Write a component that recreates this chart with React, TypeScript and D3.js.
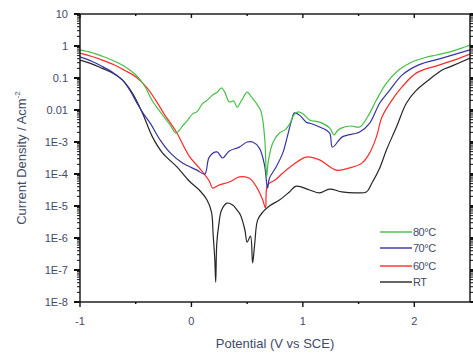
import * as d3 from 'd3'

// potential (V vs SCE) and log10 of current density (A/cm2)
const rtData: [number, number][] = [
  [-1.0, -0.44], [-0.9, -0.55], [-0.8, -0.7], [-0.7, -0.86], [-0.62, -1.06], [-0.53, -1.47],
  [-0.44, -2.09], [-0.35, -2.84], [-0.26, -3.34], [-0.13, -3.78], [-0.02, -4.22], [0.07, -4.5],
  [0.14, -4.81], [0.18, -5.19], [0.195, -5.9], [0.21, -6.69], [0.218, -7.38], [0.227, -6.2],
  [0.245, -5.6], [0.27, -5.13], [0.32, -4.91], [0.37, -4.97], [0.41, -5.13], [0.44, -5.28],
  [0.48, -5.75], [0.5, -6.13], [0.53, -5.94], [0.549, -6.78], [0.567, -6.22], [0.594, -5.44],
  [0.64, -5.19], [0.7, -5.0], [0.79, -4.81], [0.88, -4.56], [0.94, -4.38], [1.06, -4.5],
  [1.15, -4.59], [1.24, -4.47], [1.35, -4.56], [1.48, -4.59], [1.57, -4.56], [1.62, -4.28],
  [1.69, -3.81], [1.75, -3.25], [1.84, -2.53], [1.93, -1.78], [2.02, -1.38], [2.13, -1.06],
  [2.25, -0.75], [2.34, -0.62], [2.5, -0.38],
]

const c60Data: [number, number][] = [
  [-1.0, -0.22], [-0.9, -0.32], [-0.8, -0.44], [-0.7, -0.58], [-0.6, -0.76], [-0.5, -0.96],
  [-0.4, -1.3], [-0.32, -1.7], [-0.24, -2.15], [-0.18, -2.45], [-0.13, -2.72], [-0.02, -3.44],
  [0.07, -3.81], [0.16, -4.22], [0.19, -4.44], [0.25, -4.34], [0.34, -4.25], [0.43, -4.09],
  [0.52, -4.13], [0.585, -4.41], [0.64, -4.81], [0.665, -5.06], [0.683, -4.34], [0.75, -4.19],
  [0.82, -3.97], [0.91, -3.72], [1.03, -3.47], [1.15, -3.56], [1.3, -3.88], [1.42, -3.81],
  [1.53, -3.66], [1.6, -3.34], [1.66, -2.84], [1.71, -2.22], [1.8, -1.69], [1.89, -1.28],
  [2.02, -0.84], [2.2, -0.62], [2.35, -0.45], [2.5, -0.25],
]

const c70Data: [number, number][] = [
  [-1.0, -0.34], [-0.9, -0.47], [-0.8, -0.64], [-0.7, -0.84], [-0.62, -1.06], [-0.55, -1.4],
  [-0.49, -1.78], [-0.43, -2.12], [-0.37, -2.41], [-0.28, -2.94], [-0.19, -3.34], [-0.08, -3.66],
  [0.05, -3.88], [0.12, -4.0], [0.16, -3.47], [0.23, -3.31], [0.28, -3.5], [0.34, -3.28],
  [0.43, -3.16], [0.5, -3.0], [0.55, -3.0], [0.61, -3.19], [0.656, -3.72], [0.683, -4.44],
  [0.7, -4.13], [0.76, -3.78], [0.82, -3.34], [0.86, -2.84], [0.9, -2.31], [0.925, -2.09],
  [0.97, -2.16], [1.03, -2.38], [1.06, -2.41], [1.15, -2.53], [1.24, -2.72], [1.265, -3.16],
  [1.355, -2.84], [1.51, -2.69], [1.6, -2.41], [1.69, -1.78], [1.78, -1.38], [1.89, -0.91],
  [2.04, -0.59], [2.25, -0.38], [2.5, -0.12],
]

const c80Data: [number, number][] = [
  [-1.0, -0.12], [-0.9, -0.2], [-0.8, -0.32], [-0.7, -0.46], [-0.6, -0.64], [-0.5, -0.9],
  [-0.42, -1.25], [-0.35, -1.72], [-0.28, -2.06], [-0.19, -2.47], [-0.14, -2.72], [-0.1, -2.6],
  [-0.08, -2.5], [-0.04, -2.35], [0.01, -2.12], [0.05, -2.05], [0.1, -1.8], [0.14, -1.7],
  [0.19, -1.53], [0.23, -1.45], [0.27, -1.31], [0.3, -1.45], [0.34, -1.75], [0.38, -1.72],
  [0.41, -1.91], [0.45, -1.7], [0.5, -1.44], [0.54, -1.6], [0.58, -1.78], [0.62, -2.0],
  [0.64, -2.31], [0.66, -3.0], [0.675, -4.1], [0.69, -3.6], [0.73, -3.03], [0.79, -2.72],
  [0.84, -2.62], [0.88, -2.45], [0.92, -2.15], [0.96, -2.06], [1.0, -2.12], [1.06, -2.31],
  [1.15, -2.38], [1.24, -2.56], [1.28, -2.78], [1.31, -2.65], [1.35, -2.56], [1.43, -2.5],
  [1.51, -2.53], [1.58, -2.22], [1.66, -1.69], [1.75, -1.16], [1.86, -0.75], [1.98, -0.5],
  [2.1, -0.36], [2.2, -0.28], [2.35, -0.15], [2.5, 0.03],
]

const seriesNames = ['80\u00b0C', '70\u00b0C', '60\u00b0C', 'RT']
const seriesColors = ['#45c045', '#3434a4', '#ff2a2a', '#262626']
const seriesData = [c80Data, c70Data, c60Data, rtData]

const xTicks = [-1, 0, 1, 2]
const yTickValues = [10, 1, 0.1, 0.01, 1e-3, 1e-4, 1e-5, 1e-6, 1e-7, 1e-8]
const yTickLabels = ['10', '1', '0.1', '0.01', '1E-3', '1E-4', '1E-5', '1E-6', '1E-7', '1E-8']

const W = 473
const H = 357
const left = 80
const right = 470
const top = 14
const bottom = 302
const textColor = '#3f4b68'

export default function App() {
  const x = d3.scaleLinear().domain([-1, 2.5]).range([left, right])
  const y = d3.scaleLog().domain([1e-8, 10]).range([bottom, top])

  const line = d3.line<[number, number]>()
    .x(d => x(d[0]))
    .y(d => y(Math.pow(10, d[1])))
    .curve(d3.curveCatmullRom.alpha(0.5))

  // minor ticks: 2..9 within each decade
  const minorY: number[] = []
  for (let e = -8; e < 1; e++) {
    for (let k = 2; k <= 9; k++) minorY.push(k * Math.pow(10, e))
  }
  const minorX = [-0.5, 0.5, 1.5]

  return (
    <svg width={W} height={H} style={{ position: 'absolute', left: 0, top: 0, background: '#fff' }}
      fontFamily="'Liberation Sans', Arial, sans-serif">
      <defs>
        <clipPath id="plot">
          <rect x={left} y={top} width={right - left} height={bottom - top} />
        </clipPath>
      </defs>

      <g clipPath="url(#plot)" fill="none" strokeWidth={1.2} strokeLinejoin="round">
        {seriesData.slice().reverse().map((s, i) => (
          <path key={i} d={line(s) || ''} stroke={seriesColors[3 - i]} />
        ))}
      </g>

      {/* frame */}
      <rect x={left} y={top} width={right - left} height={bottom - top} fill="none" stroke="#111" strokeWidth={1.4} />

      {/* y ticks */}
      {yTickValues.map((v, i) => (
        <g key={'y' + i}>
          <line x1={left - 6} x2={left} y1={y(v)} y2={y(v)} stroke="#111" strokeWidth={2} />
          <line x1={right} x2={right + 6} y1={y(v)} y2={y(v)} stroke="#111" strokeWidth={2} />
          <text x={68} y={y(v) + 4} textAnchor="end" fontSize={11} fill={textColor}>{yTickLabels[i]}</text>
        </g>
      ))}
      {minorY.map((v, i) => (
        <g key={'ym' + i}>
          <line x1={left - 3} x2={left} y1={y(v)} y2={y(v)} stroke="#111" strokeWidth={1} />
          <line x1={right} x2={right + 3} y1={y(v)} y2={y(v)} stroke="#111" strokeWidth={1} />
        </g>
      ))}

      {/* x ticks */}
      {xTicks.map(v => (
        <g key={'x' + v}>
          <line x1={x(v)} x2={x(v)} y1={bottom} y2={bottom + 5} stroke="#111" strokeWidth={1.4} />
          <line x1={x(v)} x2={x(v)} y1={top} y2={top + 4} stroke="#111" strokeWidth={1.4} />
          <text x={x(v)} y={325} textAnchor="middle" fontSize={11} fill={textColor}>{v}</text>
        </g>
      ))}
      {minorX.map(v => (
        <g key={'xm' + v}>
          <line x1={x(v)} x2={x(v)} y1={bottom} y2={bottom + 2} stroke="#111" strokeWidth={1.4} />
          <line x1={x(v)} x2={x(v)} y1={top} y2={top + 2} stroke="#111" strokeWidth={1.4} />
        </g>
      ))}

      <text x={(left + right) / 2} y={348} textAnchor="middle" fontSize={13} fill={textColor}>
        Potential (V vs SCE)
      </text>
      <text transform={`translate(26, ${(top + bottom) / 2}) rotate(-90)`} textAnchor="middle" fontSize={13} fill={textColor}>
        Current Density / Acm<tspan dy={-6} fontSize={8}>-2</tspan>
      </text>

      {/* legend */}
      {seriesNames.map((n, i) => {
        const ly = [232, 248, 266, 282][i]
        return (
          <g key={n}>
            <line x1={380} x2={412} y1={ly} y2={ly} stroke={seriesColors[i]} strokeWidth={1.4} />
            <text x={413} y={ly + 4} fontSize={11} fill={textColor} letterSpacing={-0.5}>{n}</text>
          </g>
        )
      })}
    </svg>
  )
}
